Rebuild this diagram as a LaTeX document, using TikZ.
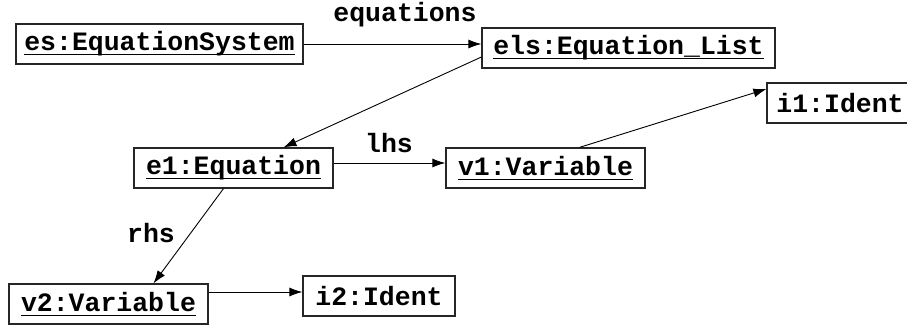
\documentclass[tikz,border=0pt]{standalone}
\usepackage{fontspec}
\setmainfont{Liberation Mono}
\usetikzlibrary{arrows.meta}
\newcommand\objname[1]{\setbox0\hbox{#1}\rlap{\rule[-0.17em]{\wd0}{0.05em}}\box0}
\tikzset{
  obj/.style={draw=black!85, line width=1.2pt, inner sep=0pt, minimum height=40pt,
    font=\fontsize{26.5}{30}\selectfont\bfseries},
  link/.style={line width=0.9pt, -{Latex[length=13pt,width=9pt]}},
  role/.style={font=\fontsize{26.5}{30}\selectfont\bfseries, inner sep=0pt}
}
\begin{document}
\begin{tikzpicture}[x=1pt,y=-1pt]
  \useasboundingbox (0,0) rectangle (907,324);
  \clip (0,0) rectangle (907,324);
  \node[obj, minimum width=287pt] (es)  at (159.5,44)  {\objname{es:EquationSystem}};
  \node[obj, minimum width=293pt] (els) at (628.5,48)  {\objname{els:Equation\_List}};
  \node[obj, minimum width=146pt] (i1)  at (840,103)   {i1:Ident\hspace{8pt}};
  \node[obj, minimum width=199pt] (e1)  at (233.5,168) {\objname{e1:Equation}};
  \node[obj, minimum width=199pt] (v1)  at (545.5,168) {\objname{v1:Variable}};
  \node[obj, minimum width=199pt] (v2)  at (108.5,304) {\objname{v2:Variable}};
  \node[obj, minimum width=152pt] (i2)  at (379,296)   {i2:Ident};

  \draw[link] (es.east) -- (es.east -| els.west);
  \draw[link] ([yshift=-9pt]els.west) -- ([xshift=50pt]e1.north);
  \draw[link] ([yshift=5pt]e1.east) -- ([yshift=5pt]v1.west);
  \draw[link] ([xshift=34pt]v1.north) -- ([yshift=14pt]i1.west);
  \draw[link] ([xshift=-10pt]e1.south) -- ([xshift=45pt]v2.north);
  \draw[link] ([yshift=12pt]v2.east) -- ([yshift=12pt]v2.east -| i2.west);

  \node[role] (eqlabel)  at (405,15)  {equations};
  \node[role] (lhslabel) at (389,143) {lhs};
  \node[role] (rhslabel) at (151,233) {rhs};
\end{tikzpicture}
\end{document}
